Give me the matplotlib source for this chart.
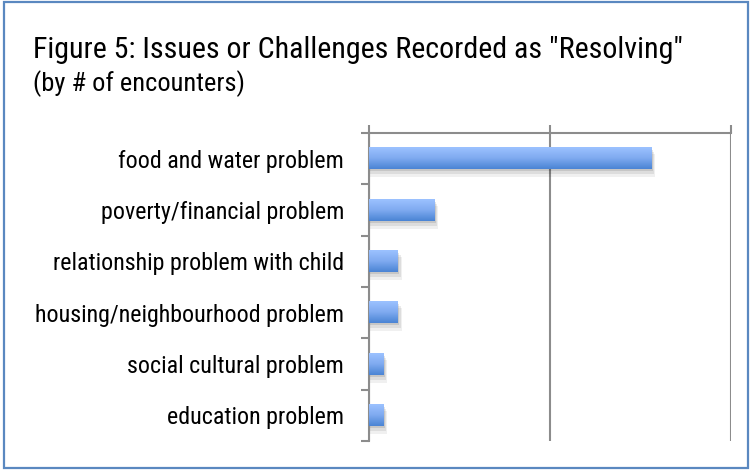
import matplotlib
matplotlib.use("Agg")
import matplotlib.pyplot as plt
import numpy as np
from matplotlib import font_manager
from matplotlib.patches import Rectangle
from matplotlib.colors import LinearSegmentedColormap

# Set the data
categories = ["food and water problem", "poverty/financial problem",
              "relationship problem with child", "housing/neighbourhood problem",
              "social cultural problem", "education problem"]
encounters = [78, 18, 8, 8, 4, 4]
x_max = 100
x_ticks = [0, 50, 100]
title = 'Figure 5: Issues or Challenges Recorded as "Resolving"'
subtitle = "(by # of encounters)"

# pick a narrow sans font if one is installed
installed = {f.name for f in font_manager.fontManager.ttflist}
font = "Liberation Sans"
for cand in ["Liberation Sans Narrow", "Arial Narrow", "Arimo Narrow", "Roboto Condensed",
             "PT Sans Narrow", "Archivo Narrow", "Open Sans Condensed"]:
    if cand in installed:
        font = cand
        break
plt.rcParams['font.family'] = [font, 'DejaVu Sans']

# Create the figure and axes
fig = plt.figure(figsize=(7.52, 4.71), dpi=100)
ax = fig.add_axes([369 / 752, 1 - 441 / 471, 362 / 752, 308 / 471])

# outer blue frame
fig.patches.append(Rectangle((4 / 752, 3 / 471), 744 / 752, 466 / 471,
                             transform=fig.transFigure, fill=False,
                             edgecolor="#5A88C0", linewidth=1.6))

# title and subtitle
t1 = fig.text(33 / 752, 1 - 58 / 471, title, fontsize=20, va="baseline", ha="left")
t2 = fig.text(33 / 752, 1 - 91 / 471, subtitle, fontsize=18, va="baseline", ha="left")

# gradient bars with soft shadow
bar_h = 0.41
cmap = LinearSegmentedColormap.from_list("bluegrad", ["#9CC2FF", "#7FAAF0", "#4A84D4"])
grad = np.linspace(0, 1, 64).reshape(-1, 1)
ypos = np.arange(len(categories))
for y, v in zip(ypos, encounters):
    for k, a in enumerate([0.10, 0.08, 0.06]):
        off = 0.4 + k * 0.35
        ax.add_patch(Rectangle((0, y - bar_h / 2 + 0.04 * (k + 1)), v + off, bar_h + 0.02 * k,
                               facecolor="black", edgecolor="none", alpha=a, zorder=2))
    ax.imshow(grad, cmap=cmap, aspect="auto", extent=[0, v, y + bar_h / 2, y - bar_h / 2],
              zorder=3, interpolation="bicubic")

ax.set_xlim(0, x_max)
ax.set_ylim(len(categories) - 0.5, -0.5)

# axis styling
grey = "#8C8C8C"
ax.xaxis.tick_top()
ax.set_xticks(x_ticks)
ax.set_xticklabels([])
ax.tick_params(axis="x", which="major", length=6, width=1.5, color=grey, direction="out")
ax.grid(axis="x", color=grey, linewidth=1.5)
ax.set_axisbelow(True)

ax.set_yticks(ypos)
ylabels = ax.set_yticklabels(categories, fontsize=17)
ax.tick_params(axis="y", which="major", length=0, pad=18)
ax.set_yticks(np.arange(-0.5, len(categories)), minor=True)
ax.tick_params(axis="y", which="minor", length=6, width=1.5, color=grey, direction="out")

for side in ["right", "bottom"]:
    ax.spines[side].set_visible(False)
for side in ["top", "left"]:
    ax.spines[side].set_color(grey)
    ax.spines[side].set_linewidth(1.5)

# fit text sizes to the widths seen in the reference
renderer = fig.canvas.get_renderer()
for t, w in [(t1, 649), (t2, 212)]:
    t.set_fontsize(t.get_fontsize() * w / t.get_window_extent(renderer).width)
w_house = ylabels[3].get_window_extent(renderer).width
ax.tick_params(axis="y", labelsize=17 * 310 / w_house)

# Save the figure
fig.savefig("out.png", dpi=100)
